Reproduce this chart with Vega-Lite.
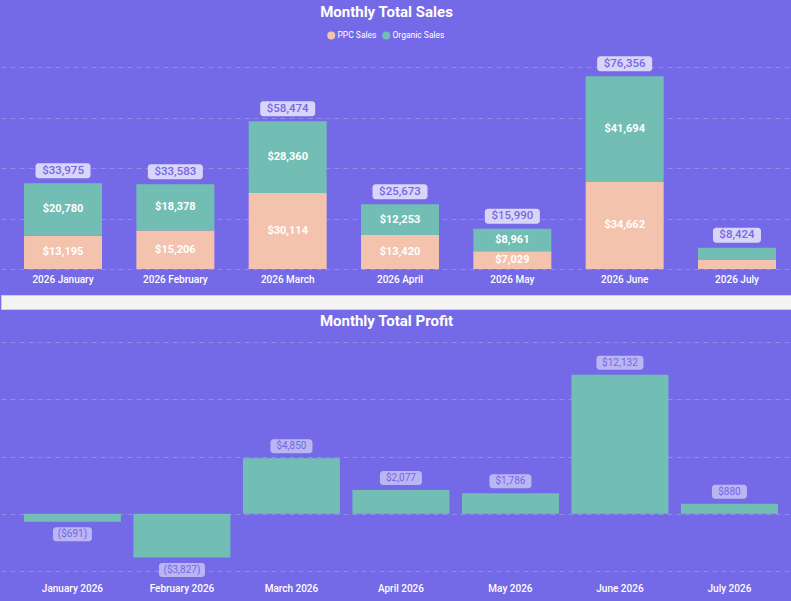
{
  "$schema": "https://vega.github.io/schema/vega-lite/v6.json",
  "background": "#7469E6",
  "padding": {"top": 5, "left": 0, "right": 0, "bottom": 11},
  "config": {
    "font": "Roboto",
    "view": {"stroke": null},
    "axis": {"domain": false, "ticks": false, "title": null}
  },
  "datasets": {
    "sales": [
      {"Month": "2026 January", "Series": "PPC Sales", "Sales": 13195},
      {"Month": "2026 January", "Series": "Organic Sales", "Sales": 20780},
      {"Month": "2026 February", "Series": "PPC Sales", "Sales": 15205.6},
      {"Month": "2026 February", "Series": "Organic Sales", "Sales": 18377.6},
      {"Month": "2026 March", "Series": "PPC Sales", "Sales": 30114},
      {"Month": "2026 March", "Series": "Organic Sales", "Sales": 28360},
      {"Month": "2026 April", "Series": "PPC Sales", "Sales": 13420},
      {"Month": "2026 April", "Series": "Organic Sales", "Sales": 12253},
      {"Month": "2026 May", "Series": "PPC Sales", "Sales": 7029},
      {"Month": "2026 May", "Series": "Organic Sales", "Sales": 8961},
      {"Month": "2026 June", "Series": "PPC Sales", "Sales": 34662},
      {"Month": "2026 June", "Series": "Organic Sales", "Sales": 41694},
      {"Month": "2026 July", "Series": "PPC Sales", "Sales": 3600},
      {"Month": "2026 July", "Series": "Organic Sales", "Sales": 4824}
    ],
    "profit": [
      {"Month": "January 2026", "Profit": -691},
      {"Month": "February 2026", "Profit": -3827},
      {"Month": "March 2026", "Profit": 4850},
      {"Month": "April 2026", "Profit": 2077},
      {"Month": "May 2026", "Profit": 1786},
      {"Month": "June 2026", "Profit": 12132},
      {"Month": "July 2026", "Profit": 880}
    ]
  },
  "spacing": 4,
  "vconcat": [
    {
      "spacing": 10,
      "vconcat": [
        {
          "width": 791,
          "height": 202,
          "title": {"text": "Monthly Total Sales", "fontSize": 15, "fontWeight": "bold", "color": "#FFFFFF", "anchor": "middle", "dx": -10, "offset": 36},
          "data": {"name": "sales"},
          "encoding": {
            "x": {
              "field": "Month", "type": "nominal",
              "sort": ["2026 January", "2026 February", "2026 March", "2026 April", "2026 May", "2026 June", "2026 July"],
              "scale": {"paddingInner": 0.3056, "paddingOuter": 0.1737, "align": 0.59},
              "axis": {"labelAngle": 0, "labelFontSize": 10, "labelFontWeight": 500, "labelColor": "#FFFFFF", "labelPadding": 5}
            }
          },
          "layer": [
            {
              "mark": {"type": "bar"},
              "encoding": {
                "y": {
                  "field": "Sales", "type": "quantitative", "stack": "zero",
                  "scale": {"domain": [0, 80000], "nice": false},
                  "axis": {"values": [0, 20000, 40000, 60000, 80000], "labels": false, "grid": true, "gridDash": [5, 4], "gridColor": "#938BEE"}
                },
                "color": {
                  "field": "Series", "type": "nominal",
                  "scale": {"domain": ["PPC Sales", "Organic Sales"], "range": ["#F4C3AD", "#72BEB4"]},
                  "legend": {"title": null, "orient": "none", "legendX": 326, "legendY": -36, "direction": "horizontal", "symbolType": "circle", "symbolSize": 64, "labelFontSize": 8.5, "labelColor": "#FFFFFF", "columnPadding": 5, "labelOffset": 2, "symbolStrokeWidth": 0}
                },
                "order": {"field": "Series", "sort": "descending"}
              }
            },
            {
              "transform": [{"filter": "datum.Sales > 5000"}],
              "mark": {"type": "text", "color": "#FFFFFF", "fontSize": 11, "fontWeight": "bold"},
              "encoding": {
                "y": {"field": "Sales", "type": "quantitative", "stack": "zero", "bandPosition": 0.5},
                "detail": {"field": "Series"},
                "order": {"field": "Series", "sort": "descending"},
                "text": {"field": "Sales", "type": "quantitative", "format": "$,.0f"}
              }
            },
            {
              "transform": [{"aggregate": [{"op": "sum", "field": "Sales", "as": "Total"}], "groupby": ["Month"]}],
              "mark": {"type": "tick", "orient": "horizontal", "thickness": 15, "cornerRadius": 3, "yOffset": -12.5, "color": "#D8D5F8", "opacity": 1},
              "encoding": {
                "y": {"field": "Total", "type": "quantitative"},
                "size": {"condition": {"test": "datum.Total < 10000", "value": 48}, "value": 55}
              }
            },
            {
              "transform": [{"aggregate": [{"op": "sum", "field": "Sales", "as": "Total"}], "groupby": ["Month"]}],
              "mark": {"type": "text", "color": "#7468E5", "fontSize": 11.5, "fontWeight": 500, "yOffset": -12.5},
              "encoding": {
                "y": {"field": "Total", "type": "quantitative"},
                "text": {"field": "Total", "type": "quantitative", "format": "$,.0f"}
              }
            }
          ]
        },
        {
          "width": 791,
          "height": 14,
          "view": {"fill": "#F3F3F3", "stroke": "#CFCAF3", "strokeWidth": 1},
          "data": {"values": [{}]},
          "mark": {"type": "text", "text": ""},
          "encoding": {}
        }
      ]
    },
    {
      "width": 791,
      "height": 229,
      "title": {"text": "Monthly Total Profit", "fontSize": 15, "fontWeight": "bold", "color": "#FFFFFF", "anchor": "middle", "dx": -10, "offset": 13},
      "data": {"name": "profit"},
      "encoding": {
        "x": {
          "field": "Month", "type": "nominal",
          "sort": ["January 2026", "February 2026", "March 2026", "April 2026", "May 2026", "June 2026", "July 2026"],
          "scale": {"paddingInner": 0.1142, "paddingOuter": 0.169, "align": 0.62},
          "axis": {"labelAngle": 0, "labelFontSize": 10, "labelFontWeight": 500, "labelColor": "#FFFFFF", "labelPadding": 12}
        }
      },
      "layer": [
        {
          "mark": {"type": "bar", "color": "#72BEB4"},
          "encoding": {
            "y": {
              "field": "Profit", "type": "quantitative",
              "scale": {"domain": [-5000, 15000], "nice": false},
              "axis": {"values": [-5000, 0, 5000, 10000, 15000], "labels": false, "grid": true, "gridDash": [5, 4], "gridColor": "#938BEE"}
            }
          }
        },
        {
          "transform": [{"filter": "datum.Profit >= 0"}],
          "mark": {"type": "tick", "orient": "horizontal", "thickness": 14, "cornerRadius": 3, "yOffset": -12, "color": "#D8D5F8"},
          "encoding": {
            "y": {"field": "Profit", "type": "quantitative"},
            "size": {"condition": [{"test": "datum.Profit >= 10000", "value": 47}, {"test": "datum.Profit < 1000", "value": 35}], "value": 42}
          }
        },
        {
          "transform": [{"filter": "datum.Profit >= 0"}],
          "mark": {"type": "text", "color": "#7468E5", "fontSize": 10, "yOffset": -12},
          "encoding": {
            "y": {"field": "Profit", "type": "quantitative"},
            "text": {"field": "Profit", "type": "quantitative", "format": "($,.0f"}
          }
        },
        {
          "transform": [{"filter": "datum.Profit < 0"}],
          "mark": {"type": "tick", "orient": "horizontal", "thickness": 14, "cornerRadius": 3, "yOffset": 12.5, "color": "#D8D5F8"},
          "encoding": {
            "y": {"field": "Profit", "type": "quantitative"},
            "size": {"condition": {"test": "datum.Profit <= -1000", "value": 46}, "value": 39}
          }
        },
        {
          "transform": [{"filter": "datum.Profit < 0"}],
          "mark": {"type": "text", "color": "#7468E5", "fontSize": 10, "yOffset": 12.5},
          "encoding": {
            "y": {"field": "Profit", "type": "quantitative"},
            "text": {"field": "Profit", "type": "quantitative", "format": "($,.0f"}
          }
        }
      ]
    }
  ]
}
